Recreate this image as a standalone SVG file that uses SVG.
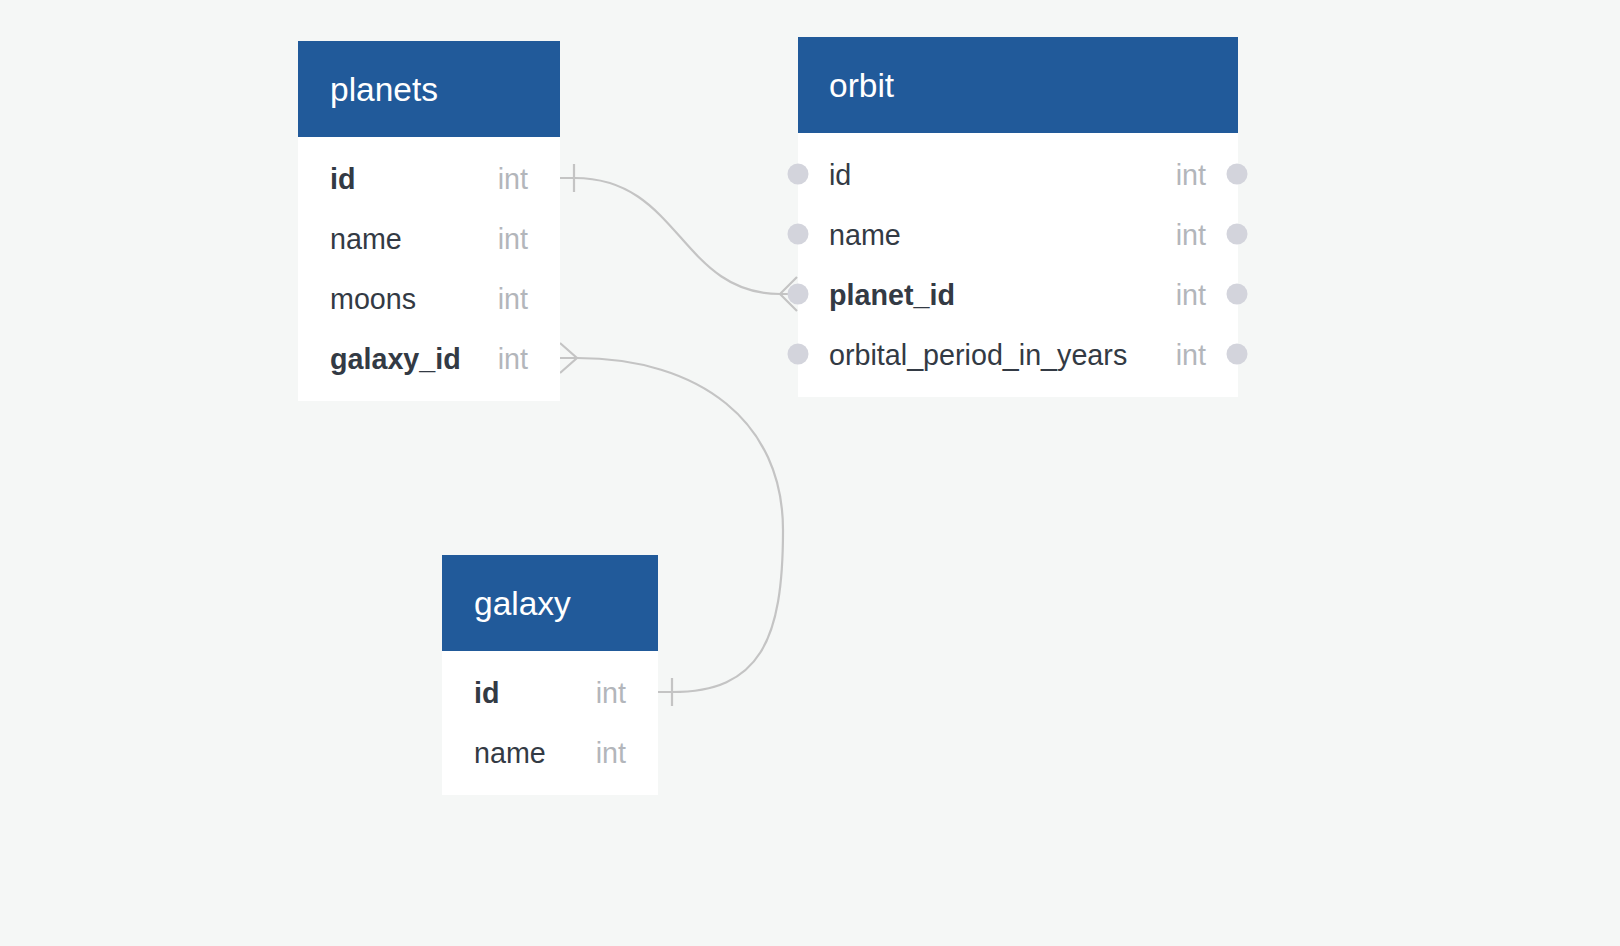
<svg xmlns="http://www.w3.org/2000/svg" width="1620" height="946" viewBox="0 0 1620 946">
<style>
.bg{fill:#f5f7f6}
.hdr{fill:#215a9a}
.body{fill:#ffffff}
.title{font-family:"Liberation Sans",Arial,sans-serif;font-size:33.5px;fill:#ffffff}
.f{font-family:"Liberation Sans",Arial,sans-serif;font-size:28.7px;fill:#333a44}
.b{font-weight:bold}
.t{font-family:"Liberation Sans",Arial,sans-serif;font-size:28.7px;fill:#b3b6bb;text-anchor:end}
.dot{fill:#d3d4dc}
.c{fill:none;stroke:#c4c4c4;stroke-width:2.2}
</style>
<rect class="bg" x="0" y="0" width="1620" height="946"/>
<g id="connectors">
  <path class="c" d="M560,178 L575,178 C680,178 680,294 780,294 L797,294"/>
  <path class="c" d="M574,164 L574,192"/>
  <path class="c" d="M780,294 L797,277 M780,294 L797,311"/>
  <path class="c" d="M560,358 L577,358 C700,358 783,422 783,530 C783,640 760,692 672,692 L658,692"/>
  <path class="c" d="M560,343 L577,358 L560,373"/>
  <path class="c" d="M672,678 L672,706"/>
</g>
<g id="planets">
  <rect class="body" x="298" y="41" width="262" height="360"/>
  <rect class="hdr" x="298" y="41" width="262" height="96"/>
  <text class="title" x="330" y="101">planets</text>
  <text class="f b" x="330" y="188.5">id</text><text class="t" x="528" y="188.5">int</text>
  <text class="f" x="330" y="248.5">name</text><text class="t" x="528" y="248.5">int</text>
  <text class="f" x="330" y="308.5">moons</text><text class="t" x="528" y="308.5">int</text>
  <text class="f b" x="330" y="368.5">galaxy_id</text><text class="t" x="528" y="368.5">int</text>
</g>
<g id="orbit">
  <rect class="body" x="798" y="37" width="440" height="360"/>
  <rect class="hdr" x="798" y="37" width="440" height="96"/>
  <text class="title" x="829" y="97">orbit</text>
  <text class="f" x="829" y="184.5">id</text><text class="t" x="1206" y="184.5">int</text>
  <text class="f" x="829" y="244.5">name</text><text class="t" x="1206" y="244.5">int</text>
  <text class="f b" x="829" y="304.5">planet_id</text><text class="t" x="1206" y="304.5">int</text>
  <text class="f" x="829" y="364.5">orbital_period_in_years</text><text class="t" x="1206" y="364.5">int</text>
  <circle class="dot" cx="798" cy="174" r="10.5"/><circle class="dot" cx="1237" cy="174" r="10.5"/>
  <circle class="dot" cx="798" cy="234" r="10.5"/><circle class="dot" cx="1237" cy="234" r="10.5"/>
  <circle class="dot" cx="798" cy="294" r="10.5"/><circle class="dot" cx="1237" cy="294" r="10.5"/>
  <circle class="dot" cx="798" cy="354" r="10.5"/><circle class="dot" cx="1237" cy="354" r="10.5"/>
</g>
<g id="galaxy">
  <rect class="body" x="442" y="555" width="216" height="240"/>
  <rect class="hdr" x="442" y="555" width="216" height="96"/>
  <text class="title" x="474" y="615">galaxy</text>
  <text class="f b" x="474" y="702.5">id</text><text class="t" x="626" y="702.5">int</text>
  <text class="f" x="474" y="762.5">name</text><text class="t" x="626" y="762.5">int</text>
</g>
</svg>
